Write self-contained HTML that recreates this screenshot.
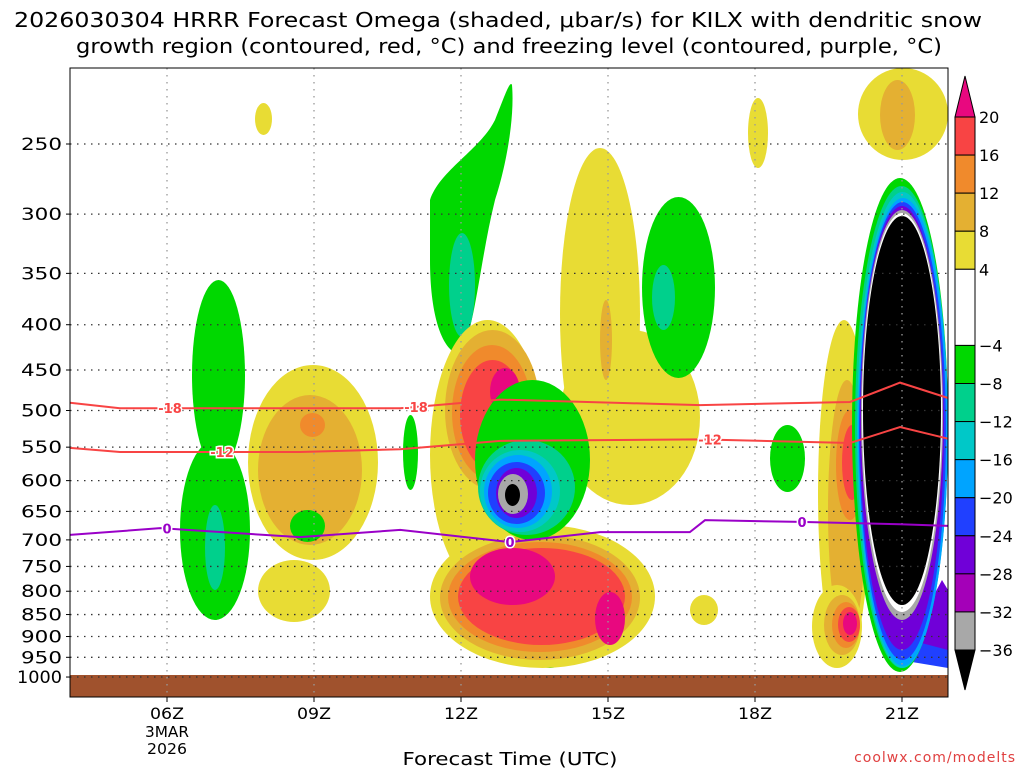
<!DOCTYPE html>
<html><head><meta charset="utf-8"><style>
body{margin:0;background:#fff;width:1024px;height:768px;overflow:hidden;font-family:"DejaVu Sans",sans-serif}
svg{display:block}
text{font-family:"DejaVu Sans","Liberation Sans",sans-serif}
</style></head><body>
<svg id="c" width="1024" height="768"></svg>
<script>
// ---- data ----
const hourTicks=[6,9,12,15,18,21];
const hourLabels=["06Z","09Z","12Z","15Z","18Z","21Z"];
const pressureTicks=[250,300,350,400,450,500,550,600,650,700,750,800,850,900,950,1000];
const cbarLevels=[20,16,12,8,4,-4,-8,-12,-16,-20,-24,-28,-32,-36];
const cbarColors=["#f84444","#f08a2c","#e4b032","#e8dc34","#ffffff","#00d800","#00d08c","#00c8c8","#00a4ff","#2040ff","#7000d8","#a400b8","#a8a8a8"];
const dgzHours=[4.02,5.04,8.71,10.76,12.8,16.88,19.94,20.96,21.94];
const dgzM18=[490,497,497,497,486,493,489,465,484];
const dgzM12=[551,557,557,553,541,539,544,522,538];
const frzHours=[4.02,5.86,8.71,10.76,13.0,14.84,16.67,16.98,18.92,20.96,21.94];
const frzP=[691,679,695,682,704,686,686,665,668,672,675];
// ---- axes ----
const X=h=>167+(h-6)*49;
const Y=p=>144+384.5*Math.log(p/250);
const NS="http://www.w3.org/2000/svg";
const svg=document.getElementById('c');
function mk(tag,attrs,parent){const e=document.createElementNS(NS,tag);for(const k in attrs)e.setAttribute(k,attrs[k]);(parent||svg).appendChild(e);return e;}
const C={p:"#e8087f",r:"#f84444",o:"#f08a2c",d:"#e4b032",y:"#e8dc34",g:"#00d800",t:"#00d08c",c:"#00c8c8",lb:"#00a4ff",b:"#2040ff",pu:"#7000d8",m:"#a400b8",gr:"#a8a8a8",k:"#000",w:"#fff"};
const field=[
[192,245,280,470,'g'],[180,250,440,620,'g'],[200,232,470,620,'g'],[205,225,505,590,'t'],
[248,378,365,560,'y'],[258,362,395,545,'d'],[300,325,413,437,'o'],
[290,325,510,542,'g'],[255,272,103,135,'y'],[258,330,560,622,'y'],
[403,418,415,490,'g'],
[560,640,148,480,'y'],[560,700,330,505,'y'],[600,612,300,380,'d'],
[642,715,197,378,'g'],[652,675,265,330,'t'],
[748,768,98,168,'y'],[690,718,595,625,'y'],[770,805,425,492,'g'],
[858,948,68,160,'y'],[880,915,80,150,'d'],
[818,870,320,665,'y'],[828,866,380,640,'d'],[836,864,410,520,'o'],[842,862,425,500,'r'],
[812,862,585,668,'y'],[824,860,595,655,'d'],[832,860,602,648,'o'],[838,860,607,642,'r'],[843,857,612,635,'p'],
[528,572,628,668,'g'],[540,560,640,662,'t'],
[430,545,320,590,'y'],[430,655,525,668,'y'],[440,640,535,660,'d'],[448,632,542,652,'o'],[458,625,548,645,'r'],[470,555,548,605,'p'],[595,625,592,645,'p'],
[445,540,330,490,'d'],[452,532,345,480,'o'],[460,525,360,470,'r'],[490,520,368,415,'p'],
[475,590,380,540,'g'],[478,575,440,535,'t'],[480,560,450,532,'c'],[484,552,455,528,'lb'],[488,545,462,524,'b'],[496,537,468,518,'pu'],[498,528,474,514,'gr'],[505,520,484,506,'k'],
[852,948,178,672,'g'],[855,948,186,668,'t'],[857,948,192,668,'c'],[858,948,198,666,'lb'],[859,946,202,660,'b'],[860,944,206,650,'pu'],[861,943,210,620,'gr'],[862,942,213,612,'w'],[863,941,216,605,'k']
];
const fg=mk('g',{});


mk('path',{d:"M430,200 C440,170 480,150 495,120 C505,95 510,80 512,85 C515,120 505,170 495,200 C480,260 475,330 460,355 C440,350 430,310 430,260 Z",fill:C.g},fg);
mk('ellipse',{cx:462,cy:285,rx:13,ry:52,fill:C.t},fg);
mk('polygon',{points:"940,600 948,610 948,668 900,660",fill:C.b},fg);
mk('polygon',{points:"942,580 948,590 948,650 910,640",fill:C.pu},fg);
for(const f of field){mk('ellipse',{cx:(f[0]+f[1])/2,cy:(f[2]+f[3])/2,rx:(f[1]-f[0])/2,ry:(f[3]-f[2])/2,fill:C[f[4]]},fg);}
const gd=mk('rect',{x:70,y:675,width:878,height:22,fill:"#a0522d"});


for(const p of pressureTicks){const l=mk('line',{x1:70,x2:948,y1:Y(p),y2:Y(p),stroke:"#333","stroke-dasharray":"1.5,5.5","stroke-width":1.3});

}
for(const h of hourTicks){const l=mk('line',{x1:X(h),x2:X(h),y1:68,y2:697,stroke:"#999","stroke-dasharray":"1.5,5.5","stroke-width":1.3});

}
function line(hs,ps,col,name,labels,lab){let d='';hs.forEach((h,i)=>d+=(i?'L':'M')+X(h)+','+Y(ps[i]));
const e=mk('path',{d:d,fill:'none',stroke:col,'stroke-width':2});


for(const lx of labels){let i=1;while(i<hs.length-1&&X(hs[i])<lx)i++;const t0=(lx-X(hs[i-1]))/(X(hs[i])-X(hs[i-1]));const yy=Y(ps[i-1])+(Y(ps[i])-Y(ps[i-1]))*t0;
const t=mk('text',{x:lx,y:yy+5,'text-anchor':'middle','font-size':13,'font-weight':'bold',fill:col,stroke:'#fff','stroke-width':3,'paint-order':'stroke'});t.textContent=lab;

}}
line(dgzHours,dgzM18,"#f84444","dgz-minus18",[170,416],"-18");
line(dgzHours,dgzM12,"#f84444","dgz-minus12",[222,710],"-12");
line(frzHours,frzP,"#9a00c8","freezing-level",[167,510,802],"0");
const fr=mk('rect',{x:70,y:68,width:878,height:629,fill:'none',stroke:'#000','stroke-width':1});


for(const p of pressureTicks){const t=mk('text',{x:62,y:Y(p)+6,'text-anchor':'end','font-size':17,fill:'#000',textLength:(p>=1000?45:41),lengthAdjust:'spacingAndGlyphs'});t.textContent=p;


mk('line',{x1:66,x2:70,y1:Y(p),y2:Y(p),stroke:'#000'});}
hourTicks.forEach((h,i)=>{const t=mk('text',{x:X(h),y:719,'text-anchor':'middle','font-size':16,fill:'#000',textLength:34,lengthAdjust:'spacingAndGlyphs'});t.textContent=hourLabels[i];


mk('line',{x1:X(h),x2:X(h),y1:697,y2:702,stroke:'#000'});});
[["3MAR",737,44],["2026",754,40]].forEach(a=>{const t=mk('text',{x:167,y:a[1],'text-anchor':'middle','font-size':15,fill:'#000',textLength:a[2],lengthAdjust:'spacingAndGlyphs'});t.textContent=a[0];

});
const xt=mk('text',{x:510,y:765,'text-anchor':'middle','font-size':18,fill:'#000',textLength:215,lengthAdjust:'spacingAndGlyphs'});xt.textContent="Forecast Time (UTC)";


const cr=mk('text',{x:1016,y:762,'text-anchor':'end','font-size':14,fill:'#e04040','letter-spacing':'1'});cr.textContent="coolwx.com/modelts";


[["2026030304 HRRR Forecast Omega (shaded, \u03bcbar/s) for KILX with dendritic snow",27,14,968],["growth region (contoured, red, \u00b0C) and freezing level (contoured, purple, \u00b0C)",53,76,866]].forEach(a=>{const t=mk('text',{x:a[2],y:a[1],'font-size':20,fill:'#000',textLength:a[3],lengthAdjust:'spacingAndGlyphs'});t.textContent=a[0];

});
const cb=mk('g',{});


const cbY=v=>117+(20-v)*(533/56);
mk('polygon',{points:"955,117 975,117 965,76",fill:C.p,stroke:'#000'},cb);
for(let i=0;i<cbarColors.length;i++){mk('rect',{x:955,y:cbY(cbarLevels[i]),width:20,height:cbY(cbarLevels[i+1])-cbY(cbarLevels[i]),fill:cbarColors[i],stroke:'#000'},cb);}
mk('polygon',{points:"955,650 975,650 965,690",fill:'#000',stroke:'#000'},cb);
for(const v of cbarLevels){const t=mk('text',{x:979,y:cbY(v)+6,'font-size':16,fill:'#000'},cb);t.textContent=(v<0?'\u2212'+(-v):v);

}
</script>
</body></html>
